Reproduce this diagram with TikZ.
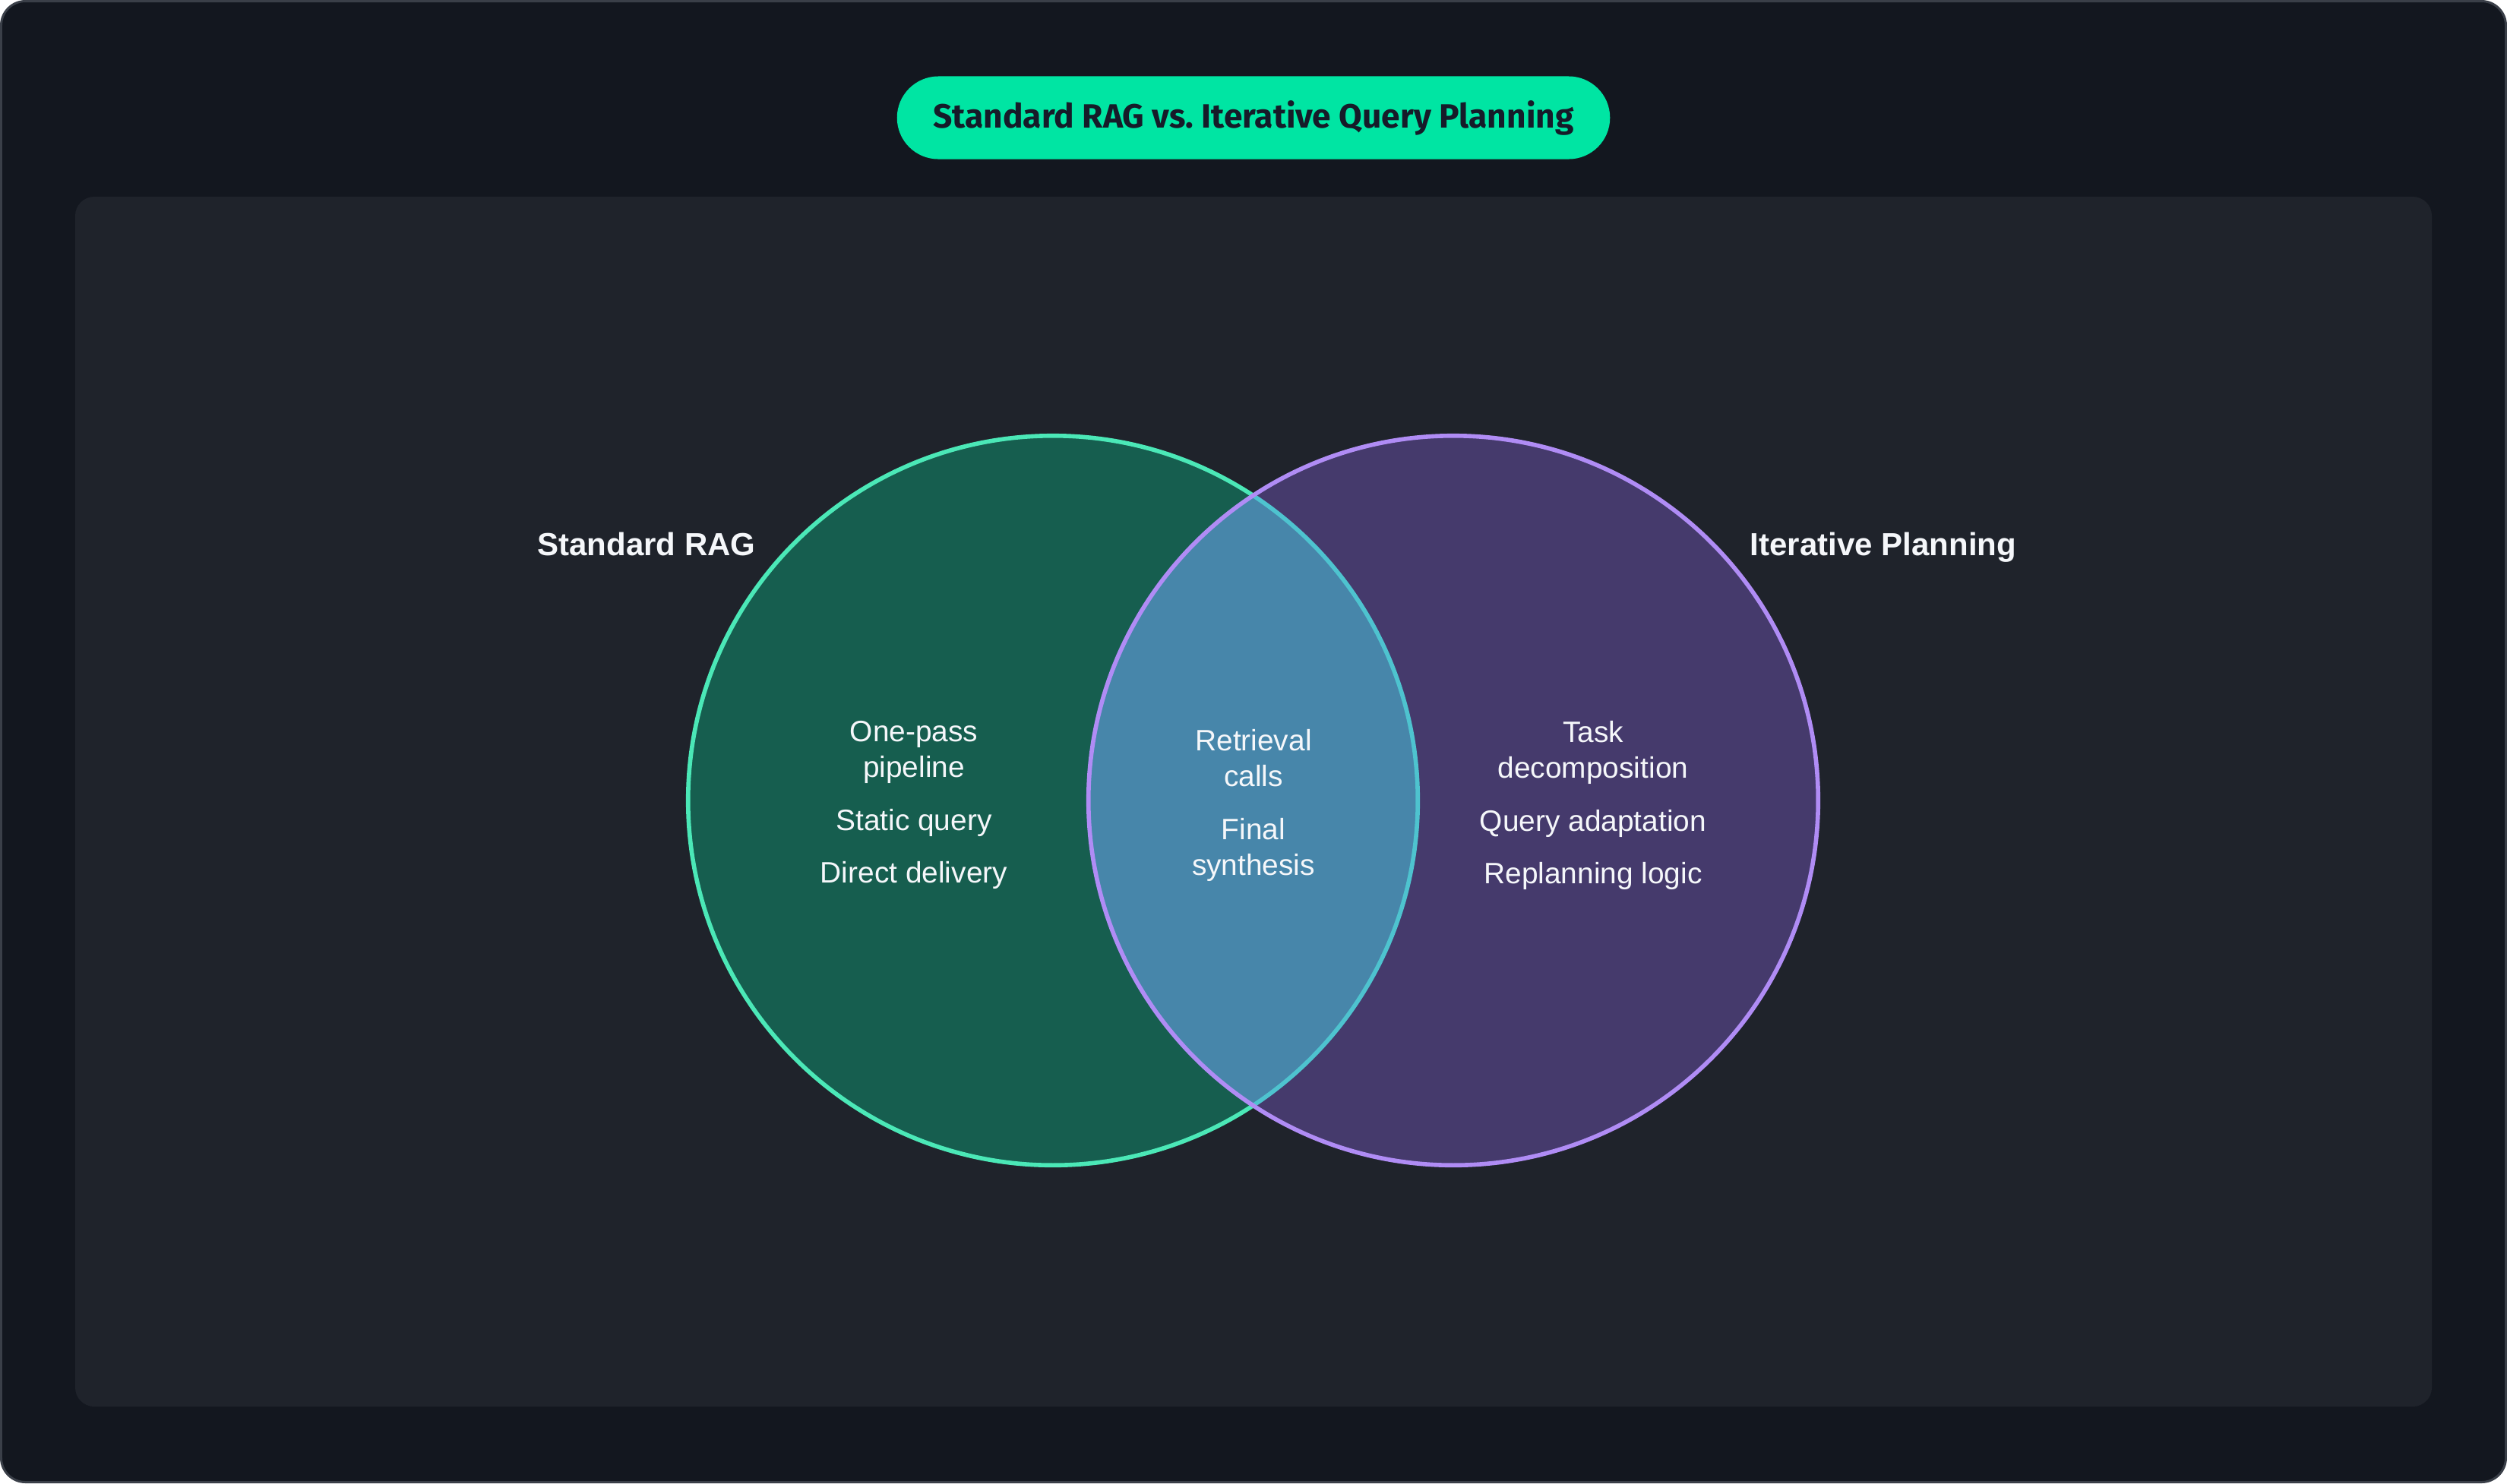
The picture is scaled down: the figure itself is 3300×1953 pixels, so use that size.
\documentclass[tikz,border=0pt]{standalone}
\usepackage{fontspec}
\setmainfont{Liberation Sans}
\newfontfamily\titlefont{Fira Sans}
\usetikzlibrary{positioning}

\definecolor{bgdark}{HTML}{13171F}
\definecolor{frame}{HTML}{3A3F48}
\definecolor{panel}{HTML}{1F232B}
\definecolor{pill}{HTML}{00E5A3}
\definecolor{titleink}{HTML}{161B29}
\definecolor{ragfill}{HTML}{165E4F}
\definecolor{ragline}{HTML}{4BE8B7}
\definecolor{iterfill}{HTML}{453A6C}
\definecolor{iterline}{HTML}{B08CF5}
\definecolor{lensfill}{HTML}{4786AA}
\definecolor{lensline}{HTML}{4EC3CF}
\definecolor{ink}{HTML}{F5F7FA}

\begin{document}
\begin{tikzpicture}[x=0.01cm,y=-0.01cm,
  ring/.style={line width=1.6pt},
  setlabel/.style={anchor=base,inner sep=0pt,text=ink,font=\fontsize{11.95}{14}\selectfont\bfseries},
  item/.style={anchor=base,inner sep=0pt,align=center,text=ink,font=\fontsize{11.05}{13.1}\selectfont},
  titlepill/.style={fill=pill,text=titleink,rounded corners=0.545cm,minimum width=9.38cm,minimum height=1.09cm,font=\titlefont\fontsize{12.6}{15}\selectfont\bfseries}]
\useasboundingbox (0,0) rectangle (3300,1953);
% frame and panel
\draw[fill=bgdark,draw=frame,line width=0.85pt,rounded corners=0.32cm] (1.5,1.5) rectangle (3298.5,1951.5);
\fill[panel,rounded corners=0.25cm] (99,259) rectangle (3201,1852);
\node[titlepill] (title) at (1650,155) {Standard RAG vs.\ Iterative Query Planning};

% the two sets
\coordinate (ragc) at (1386,1054);
\coordinate (iterc) at (1913,1054);
\fill[ragfill] (ragc) circle[radius=4.8cm];
\draw[ragline,ring] (ragc) circle[radius=4.8cm];
\fill[iterfill] (iterc) circle[radius=4.8cm];
\begin{scope}
  \clip (iterc) circle[radius=4.8cm];
  \fill[lensfill] (ragc) circle[radius=4.8cm];
  \draw[lensline,ring] (ragc) circle[radius=4.8cm];
\end{scope}
\draw[iterline,ring] (iterc) circle[radius=4.8cm];

\node[setlabel] (raglbl) at (851,731) {Standard RAG};
\node[setlabel] (iterlbl) at (2479,731) {Iterative Planning};

% Standard RAG only (base = last line)
\node[item] (onepass) at (1203,1023) {One-pass\\pipeline};
\node[item] (static) at (1203,1093) {Static query};
\node[item] (direct) at (1203,1162) {Direct delivery};
% shared
\node[item] (retrieval) at (1650,1035) {Retrieval\\calls};
\node[item] (final) at (1650,1152) {Final\\synthesis};
% Iterative Planning only
\node[item] (task) at (2097,1024) {Task\\decomposition};
\node[item] (adapt) at (2097,1094) {Query adaptation};
\node[item] (replan) at (2097,1163) {Replanning logic};
\end{tikzpicture}
\end{document}
